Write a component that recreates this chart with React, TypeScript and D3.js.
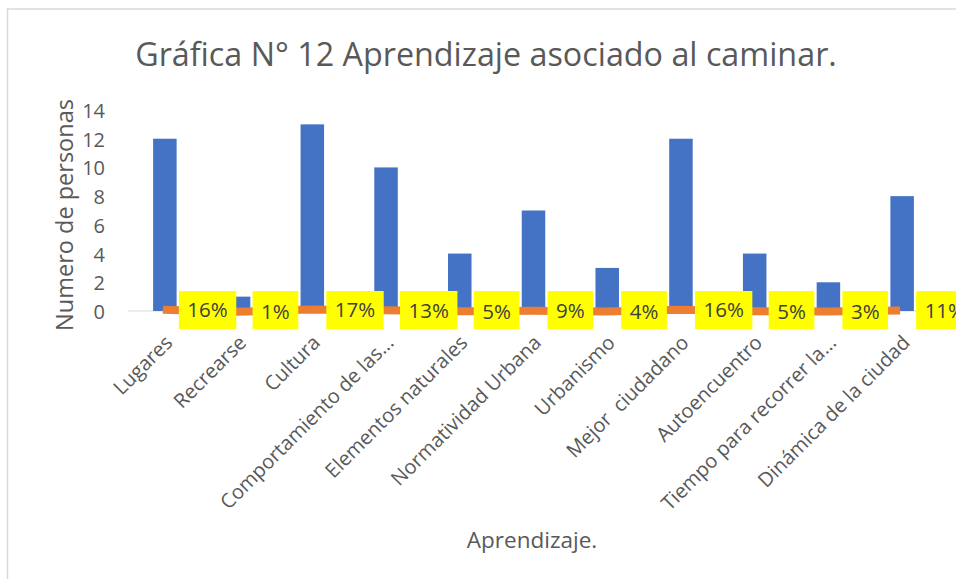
import React, { useEffect, useRef } from "react";
import * as d3 from "d3";

const categories = [
  "Lugares",
  "Recrearse",
  "Cultura",
  "Comportamiento de las...",
  "Elementos naturales",
  "Normatividad Urbana",
  "Urbanismo",
  "Mejor  ciudadano",
  "Autoencuentro",
  "Tiempo para recorrer la...",
  "Dinámica de la ciudad",
];
const personas = [12, 1, 13, 10, 4, 7, 3, 12, 4, 2, 8];
const porcentajes = [0.16, 0.01, 0.17, 0.13, 0.05, 0.09, 0.04, 0.16, 0.05, 0.03, 0.11];
const yTicks = [0, 2, 4, 6, 8, 10, 12, 14];

const FONT = "'Open Sans', 'DejaVu Sans', sans-serif";

export default function App() {
  const ref = useRef<SVGSVGElement>(null);

  useEffect(() => {
    const svg = d3.select(ref.current);
    svg.selectAll("*").remove();

    const W = 956, H = 579;
    const left = 128, right = 939, top = 110, bottom = 311;

    // border
    svg.append("path")
      .attr("d", `M7.5,${H} L7.5,9 L${W},9`)
      .attr("fill", "none")
      .attr("stroke", "#d9d9d9")
      .attr("stroke-width", 1.5);

    const x = d3.scaleBand<string>().domain(categories).range([left, right]).padding(0);
    const y = d3.scaleLinear().domain([0, 14]).range([bottom, top]);

    // title
    svg.append("text")
      .attr("x", 486)
      .attr("y", 66)
      .attr("text-anchor", "middle")
      .attr("font-family", FONT)
      .attr("font-size", 32.3)
      .attr("fill", "#595959")
      .text("Gráfica N° 12 Aprendizaje asociado al caminar.");

    // y ticks
    svg.append("g").selectAll("text").data(yTicks).join("text")
      .attr("x", 105)
      .attr("y", (d) => y(d) + 1)
      .attr("dy", "0.35em")
      .attr("text-anchor", "end")
      .attr("font-family", FONT)
      .attr("font-size", 20)
      .attr("fill", "#595959")
      .text((d) => String(d));

    // y title
    svg.append("text")
      .attr("transform", `translate(73,215) rotate(-90)`)
      .attr("text-anchor", "middle")
      .attr("font-family", FONT)
      .attr("font-size", 23.5)
      .attr("fill", "#595959")
      .text("Numero de personas");

    // axis line
    svg.append("line")
      .attr("x1", left).attr("x2", right)
      .attr("y1", y(0)).attr("y2", y(0))
      .attr("stroke", "#d9d9d9").attr("stroke-width", 1);

    // bars
    const bw = 23.5;
    svg.append("g").selectAll("rect").data(personas).join("rect")
      .attr("x", (_d, i) => (x(categories[i]) as number) + x.bandwidth() / 2 - bw / 2)
      .attr("y", (d) => y(d))
      .attr("width", bw)
      .attr("height", (d) => y(0) - y(d))
      .attr("fill", "#4472C4");

    // line
    const line = d3.line<number>()
      .x((_d, i) => (x(categories[i]) as number) + x.bandwidth() / 2 - 2)
      .y((d) => y(d) + 1);
    svg.append("path")
      .datum(porcentajes)
      .attr("d", line)
      .attr("fill", "none")
      .attr("stroke", "#ED7D31")
      .attr("stroke-width", 8);

    // labels
    const lg = svg.append("g");
    porcentajes.forEach((p, i) => {
      const cx = (x(categories[i]) as number) + x.bandwidth() / 2;
      const g = lg.append("g");
      const rect = g.append("rect").attr("fill", "#FFFF00");
      const t = g.append("text")
        .attr("x", cx + 14 + 8.5)
        .attr("y", y(p) + 1)
        .attr("dy", "0.36em")
        .attr("font-family", FONT)
        .attr("font-size", 20.5)
        .attr("fill", "#404040")
        .text(`${Math.round(p * 100)}%`);
      const w = (t.node() as SVGTextElement).getComputedTextLength();
      rect.attr("x", cx + 14).attr("y", 291).attr("width", w + 17).attr("height", 38);
    });

    // x labels
    svg.append("g").selectAll("text").data(categories).join("text")
      .attr("transform", (d) => `translate(${(x(d) as number) + x.bandwidth() / 2 + 4},339) rotate(-45)`)
      .attr("text-anchor", "end")
      .attr("dy", "0.35em")
      .attr("font-family", FONT)
      .attr("font-size", 20)
      .attr("fill", "#595959")
      .attr("xml:space", "preserve")
      .style("white-space", "pre")
      .text((d) => d);

    // x title
    svg.append("text")
      .attr("x", 532)
      .attr("y", 548)
      .attr("text-anchor", "middle")
      .attr("font-family", FONT)
      .attr("font-size", 22.5)
      .attr("fill", "#595959")
      .text("Aprendizaje.");
  }, []);

  return (
    <svg
      ref={ref}
      width={956}
      height={579}
      style={{ position: "absolute", left: 0, top: 0, background: "#fff" }}
    />
  );
}
